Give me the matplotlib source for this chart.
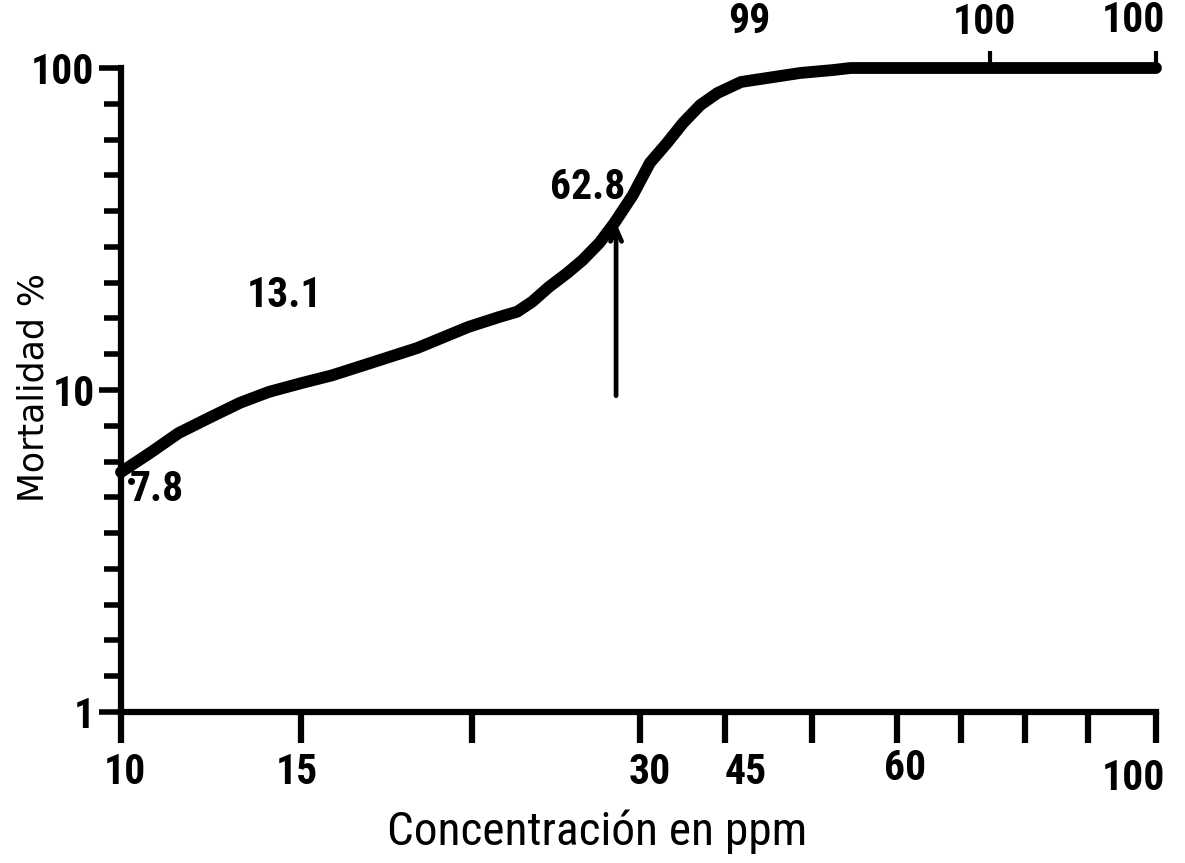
import numpy as np
import matplotlib
matplotlib.use("Agg")
import matplotlib.pyplot as plt
from matplotlib import font_manager as fm
import matplotlib.transforms as mtransforms

# ---------------- data ----------------
conc = [10.0, 10.8, 11.6, 12.5, 13.3, 14.1, 15.0, 15.9, 16.9, 18.4, 19.9,
        21.7, 22.7, 23.6, 24.6, 25.7, 26.6, 27.6, 28.5, 29.6, 31.8, 34.8,
        37.6, 40.6, 43.6, 45.9, 47.4, 49.3, 52.5, 54.5, 60.5, 74.5, 100.0]
mortalidad = [5.56, 6.37, 7.35, 8.25, 9.12, 9.86, 10.5, 11.1, 12.0, 13.5, 15.7,
              16.9, 17.5, 18.8, 20.9, 23.1, 25.3, 28.6, 33.0, 40.3, 50.7, 58.5,
              67.5, 76.7, 83.6, 90.5, 93.1, 96.5, 98.6, 100.0, 100.0, 100.0, 100.0]

point_conc = [10.0, 15.0, 28.5, 47.4, 74.5, 100.0]
point_mort = [5.56, 10.5, 33.0, 93.1, 100.0, 100.0]
point_labels = ["7.8", "13.1", "62.8", "99", "100", "100"]

arrow_conc = 28.6
arrow_from = 9.6
arrow_to = 33.0

# axis scale (irregular printed scale) and ticks
scale_conc = [10, 15, 20, 30, 45, 50, 60, 70, 80, 90, 100]
xtick_values = [10, 15, 30, 45, 60, 100]
xtick_labels = ["10", "15", "30", "45", "60", "100"]
ytick_values = [1, 10, 100]
ytick_labels = ["1", "10", "100"]

# ---------------- layout / style ----------------
scale_pos = [0, .174, .339, .501, .584, .668, .750, .812, .873, .934, 1.0]
xlabel_dx = [4, -4, 10, 20, 8, -23]
xlabel_dy = [-60, -60, -60, -60, -56, -66]
ann_offsets = [(36, -17), (-17, 88), (-27, 36), (-18, 56), (-5, 46), (-23, 47)]

names = {f.name for f in fm.fontManager.ttflist}
narrow = None
for cand in ["Roboto Condensed", "Liberation Sans Narrow", "DejaVu Sans Condensed",
             "Open Sans Condensed", "Liberation Sans"]:
    if cand in names:
        narrow = cand
        break
if narrow is None:
    narrow = "DejaVu Sans"
shrink = 1.0 if "Narrow" in narrow or "Condensed" in narrow else 0.8

W, H = 1185, 863
fig = plt.figure(figsize=(W / 100, H / 100), dpi=100)
fig.patch.set_facecolor("white")
ax = fig.add_axes([121 / W, (H - 712) / H, (1156 - 121) / W, (712 - 68) / H])


def fwd(x):
    return np.interp(x, scale_conc, scale_pos)


def inv(u):
    return np.interp(u, scale_pos, scale_conc)


ax.set_xscale("function", functions=(fwd, inv))
ax.set_yscale("log")
ax.set_xlim(10, 100)
ax.set_ylim(1, 100)

# curve
ax.plot(conc, mortalidad, color="black", lw=8.5, solid_capstyle="round",
        solid_joinstyle="round", clip_on=False, zorder=3)

# small up-ticks at the top "100" points
ax.plot(point_conc[4:], point_mort[4:], linestyle="none", marker=2, ms=12,
        mew=3, color="black", clip_on=False, zorder=4)

# small dot next to the first point
dot_tr = ax.transData + mtransforms.ScaledTranslation(10 / 100, -9 / 100, fig.dpi_scale_trans)
ax.plot([point_conc[0]], [point_mort[0]], marker="o", ms=4, color="black",
        transform=dot_tr, clip_on=False)

# point labels
for c, m, lab, (dx, dy) in zip(point_conc, point_mort, point_labels, ann_offsets):
    ax.annotate(lab, xy=(c, m), xytext=(dx, dy), textcoords="offset pixels",
                ha="center", va="center", fontsize=30 * shrink,
                fontfamily=narrow, fontweight="bold", annotation_clip=False)

# arrow
ax.annotate("", xy=(arrow_conc, arrow_to), xytext=(arrow_conc, arrow_from),
            arrowprops=dict(arrowstyle="->,head_length=0.9,head_width=0.4",
                            lw=3.4, color="black", shrinkA=0, shrinkB=0))

# spines
for s in ["top", "right"]:
    ax.spines[s].set_visible(False)
for s in ["left", "bottom"]:
    ax.spines[s].set_linewidth(4.5)
    ax.spines[s].set_capstyle("projecting")

# x ticks
ax.set_xticks(scale_conc)
ax.set_xticks([], minor=True)
ax.tick_params(axis="x", which="major", direction="out", length=22, width=4.5,
               labelbottom=False)
for v, lab, dx, dy in zip(xtick_values, xtick_labels, xlabel_dx, xlabel_dy):
    tr = mtransforms.blended_transform_factory(ax.transData, ax.transAxes) + \
        mtransforms.ScaledTranslation(dx / 100, dy / 100, fig.dpi_scale_trans)
    ax.text(v, 0, lab, transform=tr, ha="center", va="center",
            fontsize=30 * shrink, fontfamily=narrow, fontweight="bold")

# y ticks
minor = [10 ** (k / 9) for k in range(1, 18) if k != 9]
ax.set_yticks(ytick_values, ytick_labels)
ax.set_yticks(minor, minor=True)
ax.yaxis.set_minor_formatter(matplotlib.ticker.NullFormatter())
ax.tick_params(axis="y", which="major", direction="out", length=16, width=4,
               pad=3, labelsize=30 * shrink)
ax.tick_params(axis="y", which="minor", direction="out", length=12, width=4)
for t in ax.get_yticklabels():
    t.set_fontfamily(narrow)
    t.set_fontweight("bold")

# axis titles
fig.text(597 / W, 1 - 845 / H, "Concentración en ppm", ha="center", va="baseline",
         fontsize=34 * shrink, fontfamily=narrow)
fig.text(34 / W, 1 - 388 / H, "Mortalidad %", rotation=90, ha="center", va="center",
         fontsize=25, fontfamily="DejaVu Sans")

fig.savefig("out.png", dpi=100, facecolor="white")
